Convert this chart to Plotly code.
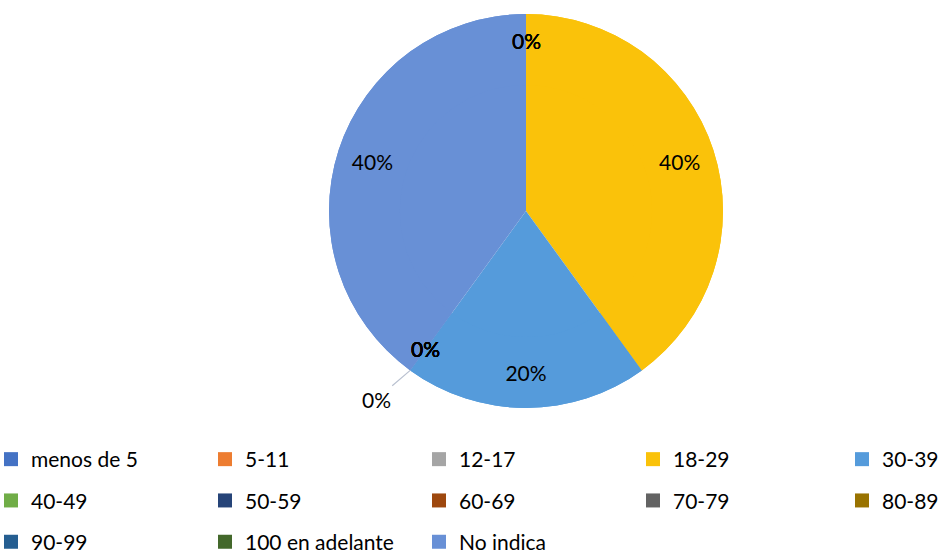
import math
import plotly.graph_objects as go

categories = ["menos de 5", "5-11", "12-17", "18-29", "30-39", "40-49", "50-59",
              "60-69", "70-79", "80-89", "90-99", "100 en adelante", "No indica"]
values = [0, 0, 0, 2, 1, 0, 0, 0, 0, 0, 0, 0, 2]
colors = ["#4472C4", "#ED7D31", "#A5A5A5", "#FAC20A", "#559BDB", "#70AD47", "#264478",
          "#9E480E", "#636363", "#997300", "#255E91", "#43682B", "#6890D6"]
# label placement style (Excel put one empty slice's label outside with a leader line)
label_outside = [False] * 11 + [True] + [False]

W, H = 942, 556
FONT = "Lato"
dom_x = [(526 - 197) / W, (526 + 197) / W]
dom = dict(x=dom_x, y=[0, 1])

fig = go.Figure()
# full pie (colour only)
fig.add_trace(go.Pie(
    labels=categories, values=values, sort=False, direction="clockwise", rotation=0,
    marker=dict(colors=colors, line=dict(width=0)),
    textinfo="none", showlegend=False, hoverinfo="label+percent", domain=dom,
))
# same data drawn as a ring on top: places the percentage labels near the rim
fig.add_trace(go.Pie(
    labels=categories, values=values, sort=False, direction="clockwise", rotation=0,
    hole=0.64,
    marker=dict(colors=colors, line=dict(width=0)),
    textinfo="percent", texttemplate="%{percent:.0%}",
    textposition=["inside" if v > 0 else "none" for v in values],
    insidetextorientation="horizontal",
    textfont=dict(family=FONT, size=21, color="#000000"),
    showlegend=False, hoverinfo="label+percent", domain=dom,
))

# legend entries laid out like Excel: 5 columns x 3 rows
ncols = 5
col_x = [-9, 205, 419, 633, 842]
for i, (cat, col) in enumerate(zip(categories, colors)):
    c = i % ncols
    lname = "legend" if c == 0 else f"legend{c + 1}"
    fig.add_trace(go.Scatter(
        x=[None], y=[None], mode="markers", name=cat,
        marker=dict(symbol="square", size=14, color=col, line=dict(width=0)),
        legend=lname, legendgroup=cat, showlegend=True, hoverinfo="skip",
    ))

# labels of the empty (0 %) slices, which the pie itself collapses: placed at the
# slice angle on a hidden unit-circle axis pair that coincides with the pie
total = sum(values)
annotations = []
cum = 0.0
for v, outside in zip(values, label_outside):
    mid = (cum + v / 2) / total * 2 * math.pi
    cum += v
    if v > 0:
        continue
    txt = f"{v / total:.0%}"
    if outside:
        annotations.append(dict(
            x=math.sin(mid), y=math.cos(mid), xref="x", yref="y", text=txt,
            showarrow=True, arrowhead=0, arrowwidth=1.2, arrowcolor="#B9C1D0",
            standoff=0, ax=-34, ay=29,
            font=dict(family=FONT, size=21, color="#000000")))
    else:
        annotations.append(dict(
            x=0.865 * math.sin(mid), y=0.865 * math.cos(mid), xref="x", yref="y",
            text=txt, showarrow=False,
            font=dict(family=FONT, size=21, color="#000000")))

leg_common = dict(orientation="v", xref="paper", yref="container",
                  xanchor="left", yanchor="top", bgcolor="rgba(0,0,0,0)",
                  borderwidth=0, tracegroupgap=11,
                  font=dict(family=FONT, size=21, color="#000000"),
                  itemclick=False, itemdoubleclick=False)
layout_legends = {}
for c in range(ncols):
    lname = "legend" if c == 0 else f"legend{c + 1}"
    layout_legends[lname] = dict(leg_common, x=col_x[c] / W, y=1 - 439 / H)

fig.update_layout(
    width=W, height=H,
    margin=dict(l=0, r=0, t=14, b=148, autoexpand=False),
    paper_bgcolor="white", plot_bgcolor="rgba(0,0,0,0)",
    xaxis=dict(visible=False, domain=dom_x, range=[-1, 1], fixedrange=True),
    yaxis=dict(visible=False, domain=[0, 1], range=[-1, 1], fixedrange=True),
    uniformtext=dict(mode="show", minsize=21),
    annotations=annotations,
    **layout_legends,
)

fig.write_html("out.html", config={"displayModeBar": False},
               post_script="document.body.style.margin='0';")
